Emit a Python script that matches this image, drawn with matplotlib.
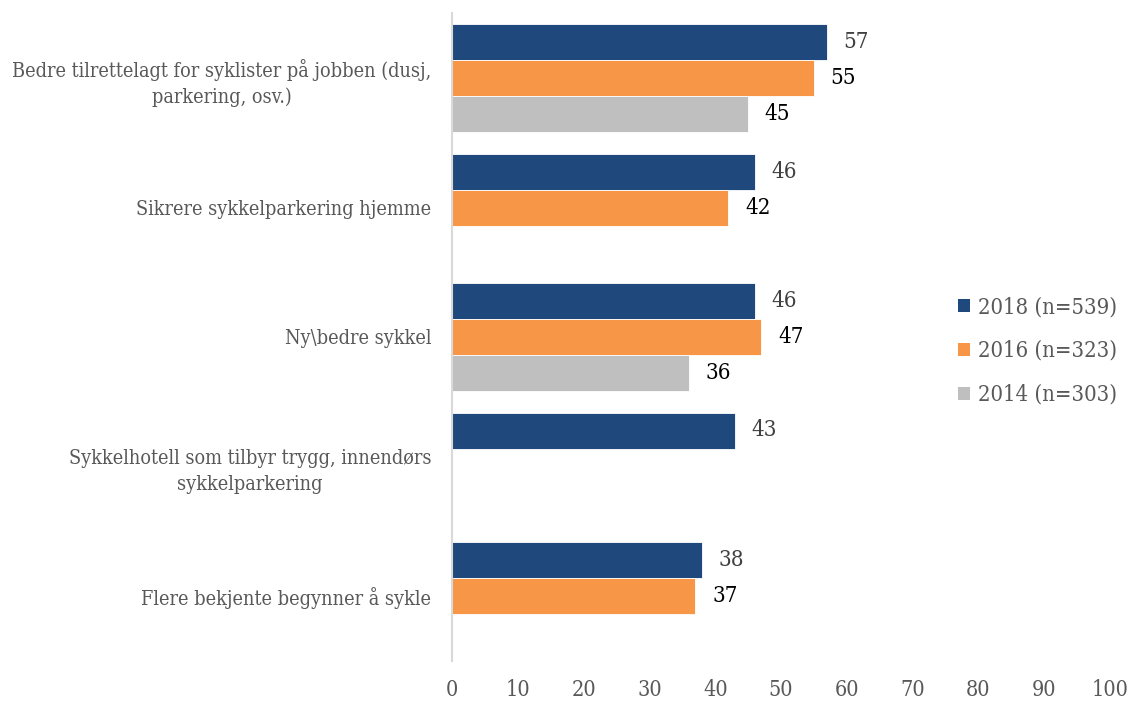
import numpy as np
import matplotlib
matplotlib.use("Agg")
import matplotlib.pyplot as plt
from matplotlib.patches import Patch

categories = [
    "Bedre tilrettelagt for syklister på jobben (dusj,\nparkering, osv.)",
    "Sikrere sykkelparkering hjemme",
    "Ny\\bedre sykkel",
    "Sykkelhotell som tilbyr trygg, innendørs\nsykkelparkering",
    "Flere bekjente begynner å sykle",
]
series_names = ["2018 (n=539)", "2016 (n=323)", "2014 (n=303)"]
v2018 = [57, 46, 46, 43, 38]
v2016 = [55, 42, 47, np.nan, 37]
v2014 = [45, np.nan, 36, np.nan, np.nan]
xticks = [0, 10, 20, 30, 40, 50, 60, 70, 80, 90, 100]

colors = ["#1F497D", "#F79646", "#BFBFBF"]
label_colors = ["#404040", "#000000", "#000000"]
plt.rcParams["font.family"] = ["DejaVu Serif"]
plt.rcParams["font.stretch"] = "condensed"

W, H = 1132, 702
fig = plt.figure(figsize=(W / 100, H / 100), dpi=100)
ax = fig.add_axes([452 / W, 41.25 / H, (1110 - 452) / W, 647.5 / H])

bh = 36 / 129.5
y = np.arange(len(categories))
offsets = [-bh, 0, bh]
all_vals = [v2018, v2016, v2014]
for vals, off, c, lc in zip(all_vals, offsets, colors, label_colors):
    vals = np.array(vals, dtype=float)
    mask = ~np.isnan(vals)
    ax.barh(y[mask] + off, vals[mask], height=bh, color=c, edgecolor="white", linewidth=0.6)
    for yy, v in zip(y[mask] + off, vals[mask]):
        ax.annotate(f"{int(v)}", (v, yy), xytext=(12, 0), textcoords="offset points",
                    ha="left", va="center", fontsize=16, color=lc)

ax.set_xlim(0, 100)
ax.set_ylim(len(categories) - 0.5, -0.5)
ax.set_xticks(xticks)
ax.set_xticklabels([str(t) for t in xticks], fontsize=15.5, color="#595959")
ax.set_yticks(y)
ax.set_yticklabels(categories, fontsize=14.2, color="#595959", multialignment="center",
                   linespacing=1.4)
ax.tick_params(axis="both", length=0)
ax.tick_params(axis="x", pad=13)
ax.tick_params(axis="y", pad=15)
for s in ["top", "right", "bottom"]:
    ax.spines[s].set_visible(False)
ax.spines["left"].set_color("#D9D9D9")
ax.spines["left"].set_linewidth(1.5)

handles = [Patch(facecolor=c, edgecolor="none") for c in colors]
fig.legend(handles, series_names, loc="center left", bbox_to_anchor=(940 / W, 0.5),
           frameon=False, fontsize=15.8, labelcolor="#595959", handlelength=0.55,
           handleheight=0.55, handletextpad=0.37, labelspacing=1.0, borderpad=0.3)

fig.savefig("out.png", dpi=100)
